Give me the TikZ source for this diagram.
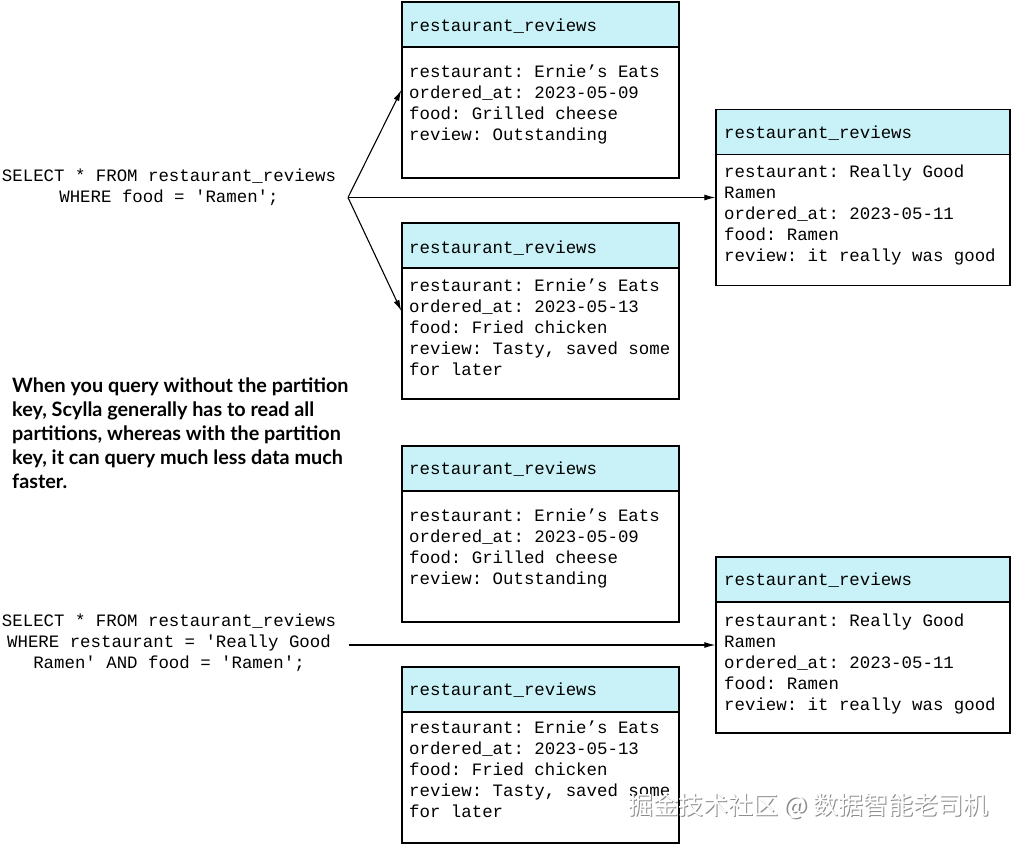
\documentclass[tikz,border=0pt]{standalone}
\usepackage{fontspec}
\setmonofont{Liberation Mono}
\newfontfamily\notefont{Lato}
\newfontfamily\cjkfont{Noto Sans CJK SC}
\usetikzlibrary{arrows.meta}
\definecolor{hdr}{RGB}{200,242,247}
\tikzset{
  tbl/.style={draw, line width=1.3pt, minimum width=#1, minimum height=176pt, inner sep=0pt},
  hdrbox/.style={draw, fill=hdr, line width=1.3pt, minimum width=#1, minimum height=45pt, inner sep=0pt, anchor=north},
  mono/.style={font=\fontsize{17.4}{21}\selectfont\ttfamily, inner sep=0pt, anchor=base west},
  qline/.style={font=\fontsize{17.4}{21}\selectfont\ttfamily, inner sep=0pt, anchor=base},
  note/.style={font=\fontsize{19.8}{24}\selectfont\notefont\bfseries, inner sep=0pt, anchor=base west},
  arr/.style={-{Latex[length=11pt,width=6pt]}, line width=1.1pt},
}
\begin{document}
\begin{tikzpicture}[x=1pt,y=-1pt]
\useasboundingbox (0,0) rectangle (1012,844);

% ---------- tables ----------
\node[tbl=277pt] (A) at (540.5,90) {};
\node[hdrbox=277pt] (Ah) at (A.north) {};
\node[tbl=294pt] (B) at (863,197.5) {};
\node[hdrbox=294pt] (Bh) at (B.north) {};
\node[tbl=277pt] (C) at (540.5,311) {};
\node[hdrbox=277pt] (Ch) at (C.north) {};
\node[tbl=277pt] (D) at (540.5,534) {};
\node[hdrbox=277pt] (Dh) at (D.north) {};
\node[tbl=294pt] (E) at (863,645) {};
\node[hdrbox=294pt] (Eh) at (E.north) {};
\node[tbl=277pt] (F) at (540.5,755) {};
\node[hdrbox=277pt] (Fh) at (F.north) {};

% box A
\node[mono] (At) at (409,31) {restaurant\_reviews};
\node[mono] (A1) at (409,77) {restaurant: Ernie’s Eats};
\node[mono] (A2) at (409,98) {ordered\_at: 2023-05-09};
\node[mono] (A3) at (409,119) {food: Grilled cheese};
\node[mono] (A4) at (409,140) {review: Outstanding};
% box B
\node[mono] (Bt) at (724,138) {restaurant\_reviews};
\node[mono] (B1) at (724,177) {restaurant: Really Good};
\node[mono] (B2) at (724,198) {Ramen};
\node[mono] (B3) at (724,219) {ordered\_at: 2023-05-11};
\node[mono] (B4) at (724,240) {food: Ramen};
\node[mono] (B5) at (724,261) {review: it really was good};
% box C
\node[mono] (Ct) at (409,253) {restaurant\_reviews};
\node[mono] (C1) at (409,291) {restaurant: Ernie’s Eats};
\node[mono] (C2) at (409,312) {ordered\_at: 2023-05-13};
\node[mono] (C3) at (409,333) {food: Fried chicken};
\node[mono] (C4) at (409,354) {review: Tasty, saved some};
\node[mono] (C5) at (409,375) {for later};
% box D
\node[mono] (Dt) at (409,474) {restaurant\_reviews};
\node[mono] (D1) at (409,521) {restaurant: Ernie’s Eats};
\node[mono] (D2) at (409,542) {ordered\_at: 2023-05-09};
\node[mono] (D3) at (409,563) {food: Grilled cheese};
\node[mono] (D4) at (409,584) {review: Outstanding};
% box E
\node[mono] (Et) at (724,585) {restaurant\_reviews};
\node[mono] (E1) at (724,626) {restaurant: Really Good};
\node[mono] (E2) at (724,647) {Ramen};
\node[mono] (E3) at (724,668) {ordered\_at: 2023-05-11};
\node[mono] (E4) at (724,689) {food: Ramen};
\node[mono] (E5) at (724,710) {review: it really was good};
% box F
\node[mono] (Ft) at (409,695) {restaurant\_reviews};
\node[mono] (F1) at (409,733) {restaurant: Ernie’s Eats};
\node[mono] (F2) at (409,754) {ordered\_at: 2023-05-13};
\node[mono] (F3) at (409,775) {food: Fried chicken};
\node[mono] (F4) at (409,796) {review: Tasty, saved some};
\node[mono] (F5) at (409,817) {for later};

% ---------- queries ----------
\node[qline] (q1a) at (169,181) {SELECT * FROM restaurant\_reviews};
\node[qline] (q1b) at (169,202) {WHERE food = 'Ramen';};
\node[qline] (q2a) at (169,626) {SELECT * FROM restaurant\_reviews};
\node[qline] (q2b) at (169,647) {WHERE restaurant = 'Really Good};
\node[qline] (q2c) at (169,668) {Ramen' AND food = 'Ramen';};

% ---------- note ----------
\node[note] (n1) at (12,392) {When you query without the partition};
\node[note] (n2) at (12,416) {key, Scylla generally has to read all};
\node[note] (n3) at (12,440) {partitions, whereas with the partition};
\node[note] (n4) at (12,464) {key, it can query much less data much};
\node[note] (n5) at (12,488) {faster.};

% ---------- arrows ----------
\coordinate (fan) at (348,197.5);
\draw[arr] (fan) -- (A.west);
\draw[arr] (fan) -- (B.west);
\draw[arr] (fan) -- (C.west);
\coordinate (start2) at (349,645);
\draw[arr] (start2) -- (E.west);

% ---------- watermark ----------
\node[font=\fontsize{25}{25}\selectfont\cjkfont, text=black!45, inner sep=0pt, anchor=base west] (wms) at (629.5,815.5) {掘金技术社区 @ 数据智能老司机};
\node[font=\fontsize{25}{25}\selectfont\cjkfont, text=white, inner sep=0pt, anchor=base west] (wm) at (628,814) {掘金技术社区 @ 数据智能老司机};
\end{tikzpicture}
\end{document}
